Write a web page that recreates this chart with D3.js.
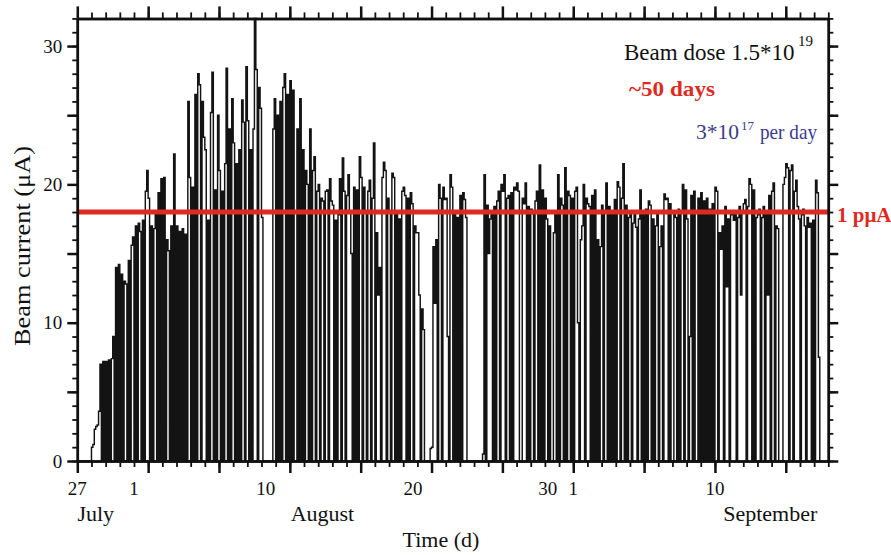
<!DOCTYPE html>
<html>
<head>
<meta charset="utf-8">
<script src="https://cdnjs.cloudflare.com/ajax/libs/d3/7.8.5/d3.min.js"></script>
<style>
    html, body { margin: 0; padding: 0; background: #fff; }
    svg { display: block; font-family: 'Liberation Serif', 'Times New Roman', serif; }
</style>
</head>
<body>
<svg class="chart" width="891" height="555"></svg>
<script>
(function () {
    'use strict';

    // beam current (uA), one reading every 0.1 day from 27 July, one row per day
    var currentByDay = [
        [0, 0, 0, 0, 0, 0, 0, 0, 0, 0],
        [1.0, 1.2, 2.3, 2.5, 2.6, 3.6, 7.0, 0, 7.2, 0],
        [7.2, 0, 7.3, 0, 7.4, 9.0, 0, 14.0, 0, 14.2],
        [0, 13.5, 0, 13.0, 12.8, 0, 14.5, 0, 15.6, 16.2],
        [0, 17.0, 0, 17.2, 16.6, 0, 17.4, 0, 19.5, 21.0],
        [19.0, 0, 17.0, 0, 16.8, 18.0, 0, 19.4, 0, 20.4],
        [0, 20.5, 0, 16.0, 15.2, 0, 17.0, 0, 22.2, 0],
        [17.0, 0, 16.6, 0, 16.8, 0, 16.4, 0, 26.0, 20.5],
        [0, 19.8, 0, 26.5, 0, 28.0, 27.2, 0, 26.0, 23.4],
        [22.5, 0, 17.4, 0, 25.2, 28.1, 0, 19.6, 0, 25.0],
        [21.0, 0, 19.5, 0, 21.5, 28.4, 0, 24.0, 0, 26.2],
        [23.0, 0, 21.5, 0, 22.5, 0, 26.1, 24.5, 0, 28.5],
        [24.6, 0, 22.5, 0, 24.0, 32.0, 28.3, 0, 27.0, 25.5],
        [17.6, 0, 0, 0, 0, 0, 0, 0, 24.0, 26.2],
        [0, 25.0, 0, 26.0, 0, 27.0, 28.0, 0, 26.5, 0],
        [27.5, 0, 26.8, 0, 0, 24.0, 0, 26.2, 0, 22.5],
        [0, 21.0, 20.0, 0, 24.0, 0, 21.0, 22.0, 0, 19.5],
        [20.0, 0, 19.0, 18.8, 0, 19.5, 19.6, 0, 20.4, 18.8],
        [18.5, 0, 17.4, 0, 17.8, 20.4, 0, 21.9, 19.5, 0],
        [19.2, 20.7, 18.0, 15.0, 0, 19.8, 0, 19.6, 0, 22.0],
        [20.5, 0, 19.8, 18.0, 0, 19.5, 20.3, 0, 19.0, 23.0],
        [0, 16.5, 12.0, 14.0, 0, 20.5, 21.6, 21.0, 0, 19.0],
        [18.0, 0, 20.8, 20.5, 0, 18.0, 0, 17.5, 0, 19.5],
        [19.8, 19.2, 0, 19.0, 0, 19.4, 18.6, 0, 17.0, 16.5],
        [16.5, 12.0, 0, 11.0, 9.5, 0, 0, 0, 0, 0.9],
        [1.0, 15.5, 11.4, 16.0, 0, 20.0, 19.0, 0, 19.8, 18.9],
        [19.0, 9.0, 0, 20.7, 19.8, 0, 18.0, 0, 17.6, 0],
        [19.2, 0, 19.4, 18.9, 17.6, 0, 0, 0, 0, 0],
        [0, 0, 0, 0, 0, 0, 0.5, 20.7, 0, 18.5],
        [15.0, 17.5, 18.0, 0, 18.4, 0, 18.8, 19.5, 0, 20.0],
        [19.5, 20.7, 0, 19.0, 19.2, 0, 19.4, 0, 19.8, 19.6],
        [20.1, 19.5, 0, 0, 19.0, 18.6, 20.1, 0, 18.4, 0],
        [18.2, 17.9, 0, 18.8, 19.5, 0, 21.4, 0, 19.6, 0],
        [19.0, 17.5, 0, 17.0, 0, 0, 16.5, 17.8, 0, 20.7],
        [0, 19.0, 18.5, 0, 21.2, 0, 19.5, 19.2, 0, 19.0],
        [0, 19.5, 19.8, 10.0, 0, 16.0, 17.0, 20.0, 0, 19.0],
        [18.6, 18.4, 0, 19.2, 0, 19.6, 0, 16.0, 0, 15.5],
        [18.5, 0, 18.0, 20.1, 0, 18.4, 0, 17.8, 0, 18.9],
        [0, 20.2, 19.8, 0, 19.0, 21.5, 0, 18.5, 0, 17.6],
        [18.0, 0, 17.2, 17.8, 16.9, 0, 17.5, 19.6, 0, 18.0],
        [0, 18.2, 0, 18.8, 18.5, 0, 17.5, 0, 17.0, 18.0],
        [0, 15.5, 17.0, 0, 19.3, 18.9, 19.0, 0, 18.6, 0],
        [0, 18.0, 17.6, 0, 18.2, 0, 18.0, 20.0, 0, 19.6],
        [17.5, 0, 9.0, 19.2, 0, 19.5, 0, 0, 19.0, 0],
        [19.4, 0, 18.8, 0, 19.0, 0, 18.2, 0, 18.6, 0],
        [19.8, 19.5, 0, 16.5, 15.3, 17.0, 0, 18.4, 12.6, 17.5],
        [0, 17.8, 18.1, 17.4, 18.0, 0, 17.6, 18.4, 12.0, 18.0],
        [18.6, 18.9, 0, 18.4, 20.4, 20.0, 0, 19.6, 0, 17.6],
        [17.8, 18.2, 0, 17.6, 18.4, 0, 18.0, 12.0, 19.2, 0],
        [19.5, 20.1, 0, 17.0, 16.8, 0, 0, 0, 20.0, 20.5],
        [21.5, 21.2, 0, 21.0, 21.4, 0, 19.5, 20.3, 18.4, 17.5],
        [0, 17.8, 18.2, 17.0, 0, 17.6, 16.9, 17.2, 0, 17.4],
        [0, 20.3, 19.4, 7.5, 0]
    ];
    var stepDay = 0.1, totalDays = 53, maxCurrent = 32, limitCurrent = 18;

    var tickLabelDays = [0, 4, 13.3, 23.7, 33.2, 35, 45],
        tickLabels = ['27', '1', '10', '20', '30', '1', '10'],
        monthDays = [1.3, 17.3, 48.9],
        months = ['July', 'August', 'September'];

    var svg = d3.select('.chart'),
        x = d3.scaleLinear().domain([0, totalDays]).range([77.3, 828.3]),
        y = d3.scaleLinear().domain([0, maxCurrent]).range([461, 18.4]),
        points = d3.merge(currentByDay).map(function (v, i) { return [i * stepDay, v]; }),
        dayMinor = d3.range(0, totalDays + 1),
        dayMajor = d3.range(0, totalDays + 1, 5),
        valMinor = d3.range(0, maxCurrent + 1),
        valMajor = d3.range(0, maxCurrent + 1, 5);

    var line = d3.line()
        .x(function (d) { return x(d[0]); })
        .y(function (d) { return y(d[1]); })
        .curve(d3.curveStepAfter);

    // beam current trace
    svg.append('path')
        .datum(points)
        .attr('fill', 'none')
        .attr('stroke', '#131313')
        .attr('stroke-width', 1.45)
        .attr('d', line);

    // 1 puA level
    svg.append('line')
        .attr('x1', x(0))
        .attr('x2', x(totalDays))
        .attr('y1', y(limitCurrent))
        .attr('y2', y(limitCurrent))
        .attr('stroke', '#de2a22')
        .attr('stroke-width', 5);

    function drawAxis(axis, transform, values, size, width, fmt) {
        var g = svg.append('g')
            .attr('transform', transform)
            .call(axis.tickValues(values).tickSize(size).tickSizeOuter(0).tickFormat(fmt || ''));
        g.select('.domain').attr('stroke', '#111').attr('stroke-width', 2.5);
        g.selectAll('.tick line').attr('stroke', '#111').attr('stroke-width', width);
        g.attr('font-family', null).attr('font-size', 19);
        g.selectAll('.tick text').attr('fill', '#111');
        return g;
    }

    var bottom = 'translate(0,' + y(0) + ')', top = 'translate(0,' + y(maxCurrent) + ')',
        left = 'translate(' + x(0) + ',0)', right = 'translate(' + x(totalDays) + ',0)';

    drawAxis(d3.axisBottom(x), bottom, dayMinor, 6, 1.8);
    drawAxis(d3.axisBottom(x), bottom, dayMajor, 12, 2.5);
    drawAxis(d3.axisTop(x), top, dayMinor, 6, 1.8);
    drawAxis(d3.axisTop(x), top, dayMajor, 12, 2.5);
    drawAxis(d3.axisRight(y), right, valMinor, 5, 1.8);
    drawAxis(d3.axisRight(y), right, valMajor, 10, 2.5);
    drawAxis(d3.axisLeft(y), left, valMinor, 5, 1.8);
    drawAxis(d3.axisLeft(y), left, valMajor, 10, 2.5, function (d) { return d % 10 === 0 ? d : ''; })
        .call(function (g) { g.selectAll('.tick text').attr('x', -15); });

    // date labels under the axis
    svg.append('g').selectAll('text')
        .data(tickLabels)
        .enter().append('text')
        .attr('x', function (d, i) { return x(tickLabelDays[i]); })
        .attr('y', 495)
        .attr('text-anchor', 'middle')
        .attr('font-size', 19)
        .attr('fill', '#111')
        .text(function (d) { return d; });

    svg.append('g').selectAll('text')
        .data(months)
        .enter().append('text')
        .attr('x', function (d, i) { return x(monthDays[i]); })
        .attr('y', 521)
        .attr('text-anchor', 'middle')
        .attr('font-size', 22)
        .attr('fill', '#111')
        .text(function (d) { return d; });

    svg.append('text')
        .attr('x', 441)
        .attr('y', 547)
        .attr('text-anchor', 'middle')
        .attr('font-size', 22)
        .attr('fill', '#111')
        .text('Time (d)');

    svg.append('text')
        .attr('transform', 'translate(30,246) rotate(-90)')
        .attr('text-anchor', 'middle')
        .attr('font-size', 23)
        .attr('textLength', 200)
        .attr('lengthAdjust', 'spacingAndGlyphs')
        .attr('fill', '#111')
        .text('Beam current (\u03bcA)');

    // annotations
    svg.append('text')
        .attr('x', 624).attr('y', 59.5)
        .attr('font-size', 23)
        .attr('fill', '#111')
        .text('Beam dose 1.5*10');
    svg.append('text')
        .attr('x', 798).attr('y', 46)
        .attr('font-size', 15)
        .attr('fill', '#111')
        .text('19');

    svg.append('text')
        .attr('x', 629).attr('y', 96)
        .attr('font-size', 22)
        .attr('font-weight', 'bold')
        .attr('textLength', 86)
        .attr('lengthAdjust', 'spacingAndGlyphs')
        .attr('fill', '#de2a22')
        .text('~50 days');

    svg.append('text')
        .attr('x', 696).attr('y', 138.5)
        .attr('font-size', 22)
        .attr('textLength', 43)
        .attr('lengthAdjust', 'spacingAndGlyphs')
        .attr('fill', '#3b3b8c')
        .text('3*10');
    svg.append('text')
        .attr('x', 741).attr('y', 130)
        .attr('font-size', 13)
        .attr('fill', '#3b3b8c')
        .text('17');
    svg.append('text')
        .attr('x', 760).attr('y', 138.5)
        .attr('font-size', 22)
        .attr('textLength', 57)
        .attr('lengthAdjust', 'spacingAndGlyphs')
        .attr('fill', '#3b3b8c')
        .text('per day');

    svg.append('text')
        .attr('x', 837).attr('y', 222)
        .attr('font-size', 21)
        .attr('font-weight', 'bold')
        .attr('fill', '#de2a22')
        .text('1 p\u03bcA');
}());
</script>
</body>
</html>
